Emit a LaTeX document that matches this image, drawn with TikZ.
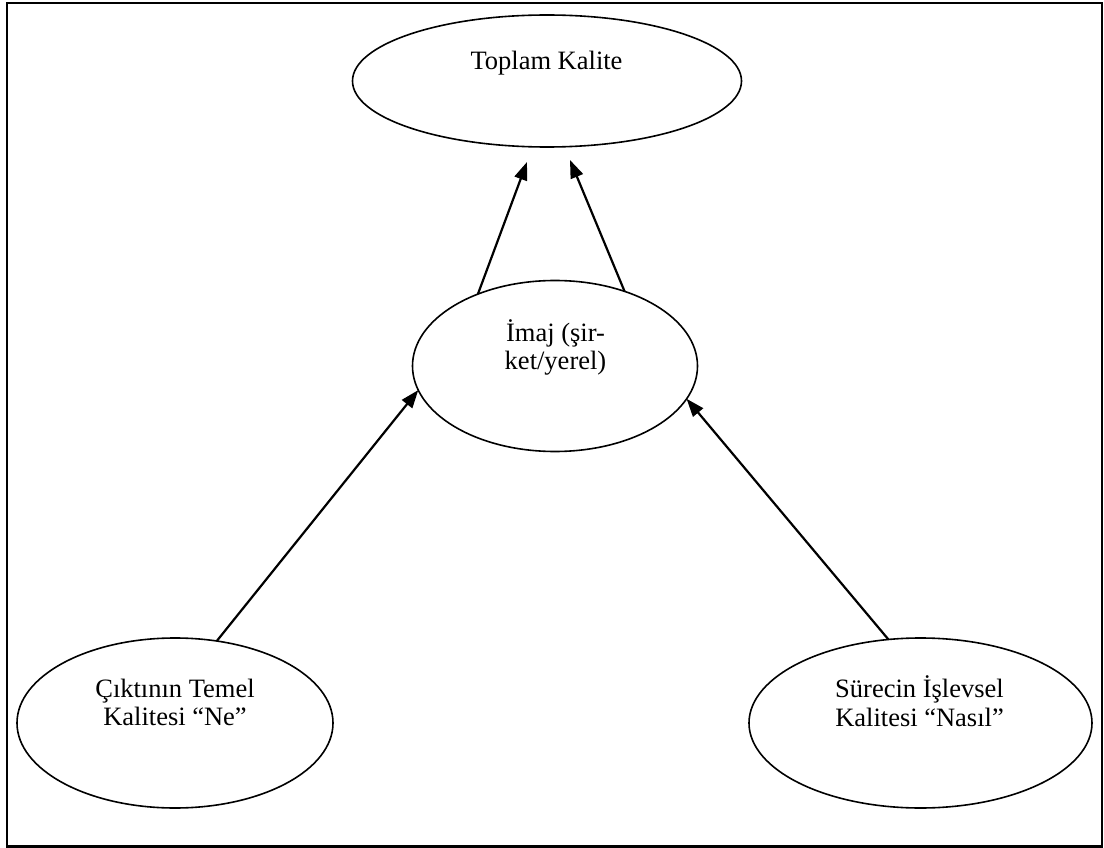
\documentclass[tikz,border=0pt]{standalone}
\usepackage{fontspec}
\setmainfont{Liberation Serif}
\usetikzlibrary{arrows.meta,shapes.geometric,calc}
\begin{document}
\begin{tikzpicture}[x=1pt,y=-1pt,
  oval/.style={draw,ellipse,line width=1.6pt,inner sep=0pt,outer sep=0pt},
  lbl/.style={font=\fontsize{26.5}{28.5}\selectfont,align=center,inner sep=0pt,anchor=base},
  arr/.style={line width=2.2pt,-{Triangle[length=18pt,width=13pt]}}]
\useasboundingbox (0,0) rectangle (1104,848);
% outer frame
\draw[line width=2.3pt] (7.3,3) rectangle (1102.3,846.5);

% ellipses
\node[oval,minimum width=389pt,minimum height=132pt] (toplam) at (547,81) {};
\node[oval,minimum width=285pt,minimum height=171pt] (imaj) at (555,366) {};
\node[oval,minimum width=316pt,minimum height=170pt] (cikti) at (175,723) {};
\node[oval,minimum width=343pt,minimum height=170pt] (surec) at (920.5,723) {};

% labels (base anchor sits on the last line)
\node[lbl] (toplamtxt) at (546.5,69.3) {Toplam Kalite};
\node[lbl] (imajtxt) at (555.5,369.5) {İmaj (şir-\\ket/yerel)};
\node[lbl] (ciktitxt) at (175,725.5) {Çıktının Temel\\Kalitesi “Ne”};
\node[lbl] (surectxt) at (919.5,726) {Sürecin İşlevsel\\Kalitesi “Nasıl”};

% connectors
\draw[arr] (imaj.137.6) -- ($(toplam.south)+(-20,15)$);
\draw[arr] (imaj.47.8) -- ($(toplam.south)+(23,13)$);
\draw[arr] (cikti.63.4) -- (imaj.190.5);
\draw[arr] (surec.111.9) -- (imaj.346.7);
\end{tikzpicture}
\end{document}
